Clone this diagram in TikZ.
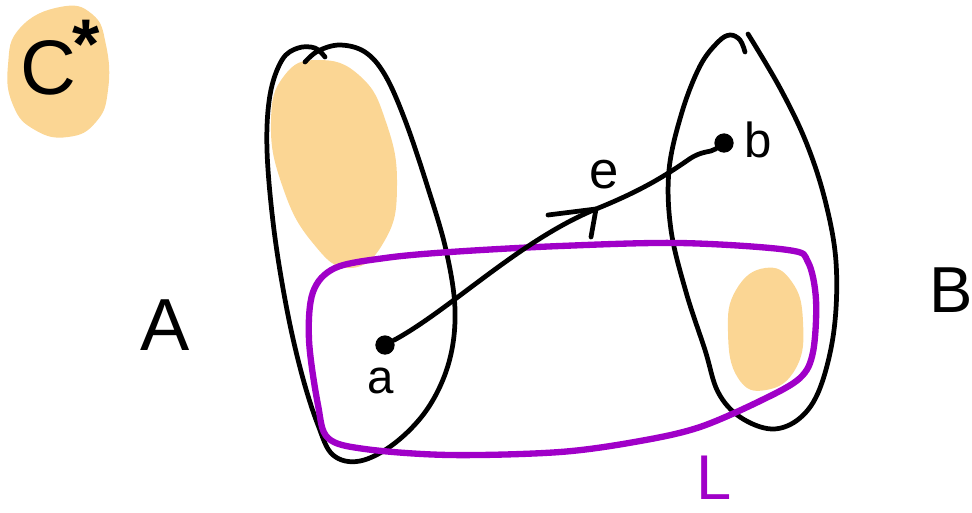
\documentclass[tikz,border=0pt]{standalone}
\usepackage{fontspec}
\setmainfont{Liberation Sans}
\usetikzlibrary{arrows.meta}
\definecolor{blob}{RGB}{251,214,148}
\definecolor{lpurple}{RGB}{160,0,200}
\tikzset{
  outline/.style={draw=black, line width=2.7pt, line cap=round, line join=round},
  blobfill/.style={fill=blob, draw=none},
  lpath/.style={draw=lpurple, line width=3.6pt, line cap=round, line join=round},
  vertex/.style={circle, fill=black, inner sep=0pt, minimum size=9pt},
  lbl/.style={inner sep=0pt, text=black},
}
\begin{document}
\begin{tikzpicture}[x=0.02cm, y=-0.02cm]
\useasboundingbox (0,0) rectangle (972,512);
% C* blob
\fill[blob] plot[smooth cycle, tension=0.8] coordinates {(60,7) (92,14) (106,45) (108,90) (96,122) (68,137) (35,130) (13,105) (8,65) (20,28)};
\node[lbl, font=\fontsize{44}{44}\selectfont] (cstar) at (48,68) {C};
\node[lbl, font=\fontsize{40}{40}\selectfont\bfseries] (ast) at (86,44) {*};
% orange blobs
\fill[blob] plot[smooth cycle, tension=0.8] coordinates {(318,60) (360,76) (386,122) (397,185) (385,240) (350,268) (312,242) (282,185) (271,122) (284,76)};
\fill[blob] plot[smooth cycle, tension=0.8] coordinates {(765,268) (792,282) (803,322) (796,368) (766,390) (738,378) (728,332) (736,290)};
% left ellipse A
\draw[outline] plot[smooth, tension=0.6] coordinates {(305,62) (318,51) (340,45) (365,52) (385,75) (405,120) (427,185) (446,250) (455,310) (449,362) (428,408) (395,443) (360,461) (333,455) (318,425) (302,375) (287,310) (274,230) (267,150) (270,95) (282,60) (298,48) (315,48) (325,57)};
% right ellipse B
\draw[outline] plot[smooth, tension=0.6] coordinates {(745,52) (740,40) (730,35) (718,42) (700,66) (682,112) (669,170) (671,230) (686,292) (705,350) (718,392) (740,417) (772,429) (800,418) (820,388) (834,330) (836,262) (825,200) (806,142) (780,88) (748,34)};
% purple L
\draw[lpath] plot[smooth cycle, tension=0.55] coordinates {(335,268) (385,258) (450,252) (560,246) (680,243) (788,250) (808,262) (816,300) (813,352) (800,378) (762,400) (700,427) (640,441) (560,452) (450,455) (365,449) (328,438) (318,405) (309,340) (313,292)};
% vertices
\node[vertex, minimum width=8pt, minimum height=11pt] (a) at (385,345) {};
\node[vertex, minimum size=11pt] (b) at (724,143) {};
\coordinate (m) at (596,209);
\draw[outline] (a) .. controls (450,310) and (520,240) .. (m) .. controls (638,192) and (662,178) .. (688,160) .. controls (702,150) and (710,153) .. (b);
\draw[outline] (548,215) -- (m) -- (591,237);
% labels
\node[lbl, font=\fontsize{30}{30}\selectfont] (elab) at (604,175) {e};
\node[lbl, font=\fontsize{28}{28}\selectfont] (blab) at (758,140) {b};
\node[lbl, font=\fontsize{27}{27}\selectfont] (alab) at (381,381) {a};
\node[lbl, font=\fontsize{42}{42}\selectfont] (Alab) at (165,325) {A};
\node[lbl, font=\fontsize{37}{37}\selectfont] (Blab) at (951,290) {B};
\node[lbl, text=lpurple, font=\fontsize{36}{36}\selectfont] (Llab) at (714,478) {L};
\end{tikzpicture}
\end{document}
